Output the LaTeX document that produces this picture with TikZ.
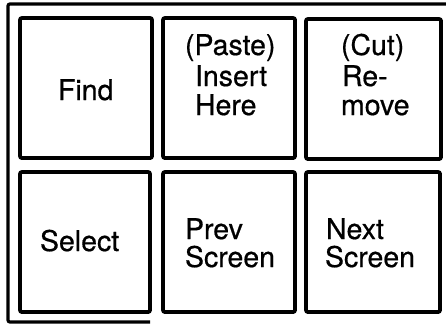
\documentclass[tikz,border=0pt]{standalone}
\usepackage{fontspec}
\setmainfont{TeX Gyre Heros}[FakeBold=0.6]
\begin{document}
\begin{tikzpicture}[x=1pt,y=-1pt,
  keybox/.style={draw, line width=3.8pt, rounded corners=2pt, outer sep=0pt, inner sep=0pt, minimum height=140pt},
  lbl/.style={anchor=base west, inner sep=0pt, outer sep=0pt, font=\fontsize{28.5}{30}\selectfont}]
\useasboundingbox (0,0) rectangle (446,325);
\coordinate (fa) at (150,322);
\coordinate (fb) at (8,322);
\coordinate (fc) at (8,4);
\coordinate (fd) at (450,4);
\draw[line width=3.2pt, rounded corners=2pt] (fa) -- (fb) -- (fc) -- (fd);
% keys
\node[keybox, minimum width=132pt] (k1) at (86,88) {};
\node[keybox, minimum width=132pt] (k2) at (229,88) {};
\node[keybox, minimum width=135pt] (k3) at (373.5,89) {};
\node[keybox, minimum width=130pt] (k4) at (85,242) {};
\node[keybox, minimum width=132pt] (k5) at (229,242) {};
\node[keybox, minimum width=134pt] (k6) at (373,242) {};
% labels
\node[lbl] (t1) at (58,100) {Find};
\node[lbl] (t2a) at (185,55) {(Paste)};
\node[lbl] (t2b) at (195,86) {Insert};
\node[lbl] (t2c) at (195,115) {Here};
\node[lbl] (t3a) at (341,55) {(Cut)};
\node[lbl] (t3b) at (342,86) {Re-};
\node[lbl] (t3c) at (341,115) {move};
\node[lbl] (t4) at (40,251) {Select};
\node[lbl] (t5a) at (185,239) {Prev};
\node[lbl] (t5b) at (185,267) {Screen};
\node[lbl] (t6a) at (326,239) {Next};
\node[lbl] (t6b) at (325,267) {Screen};
\end{tikzpicture}
\end{document}
